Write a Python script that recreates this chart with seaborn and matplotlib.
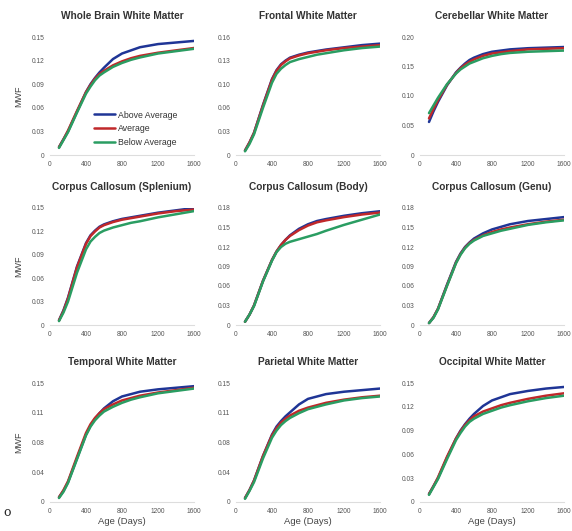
import numpy as np
import pandas as pd
import matplotlib
matplotlib.use("Agg")
import matplotlib.pyplot as plt
import seaborn as sns

sns.set_theme(style="white")
plt.rcParams['font.family'] = ['Liberation Sans', 'DejaVu Sans']

ages = [100, 150, 200, 300, 400, 450, 500, 550, 600, 700, 800, 900, 1000, 1200, 1400, 1600]
groups = ["Above Average", "Average", "Below Average"]
colors = {"Above Average": "#1f3596", "Average": "#c0282a", "Below Average": "#2a9d62"}

titles = ["Whole Brain White Matter", "Frontal White Matter", "Cerebellar White Matter",
          "Corpus Callosum (Splenium)", "Corpus Callosum (Body)", "Corpus Callosum (Genu)",
          "Temporal White Matter", "Parietal White Matter", "Occipital White Matter"]

whole_above = [.010, .020, .030, .055, .080, .090, .098, .105, .111, .122, .129, .133, .137, .141, .143, .145]
whole_avg   = [.010, .020, .031, .056, .080, .089, .097, .103, .107, .114, .119, .123, .126, .130, .133, .136]
whole_below = [.009, .019, .029, .054, .078, .087, .095, .101, .105, .112, .117, .121, .124, .129, .132, .135]

frontal_above = [.006, .017, .030, .068, .103, .115, .123, .128, .132, .136, .139, .141, .143, .146, .149, .151]
frontal_avg   = [.006, .017, .030, .067, .102, .114, .122, .127, .131, .135, .138, .140, .142, .145, .147, .149]
frontal_below = [.005, .015, .028, .064, .098, .110, .117, .122, .126, .130, .133, .136, .138, .142, .145, .147]

cereb_above = [.056, .074, .090, .118, .140, .148, .155, .161, .165, .171, .175, .177, .179, .181, .182, .183]
cereb_avg   = [.062, .078, .093, .119, .139, .147, .153, .158, .162, .168, .172, .174, .176, .179, .180, .181]
cereb_below = [.071, .084, .097, .120, .138, .145, .150, .155, .158, .164, .168, .171, .173, .175, .176, .177]

splen_above = [.006, .019, .035, .075, .105, .115, .121, .126, .129, .133, .136, .138, .140, .144, .147, .150]
splen_avg   = [.006, .018, .034, .074, .104, .114, .120, .125, .128, .132, .135, .137, .139, .143, .146, .148]
splen_below = [.005, .016, .030, .067, .097, .107, .113, .118, .121, .125, .128, .131, .133, .138, .142, .146]

body_above = [.005, .016, .030, .068, .100, .113, .123, .131, .138, .148, .155, .160, .163, .168, .172, .175]
body_avg   = [.005, .016, .030, .068, .100, .113, .123, .131, .137, .146, .153, .158, .161, .166, .170, .173]
body_below = [.005, .016, .029, .067, .099, .112, .120, .125, .128, .132, .136, .140, .145, .154, .162, .170]

genu_above = [.003, .012, .025, .062, .097, .110, .120, .127, .133, .141, .147, .151, .155, .160, .163, .166]
genu_avg   = [.003, .012, .025, .061, .096, .109, .119, .126, .131, .138, .143, .147, .150, .155, .159, .162]
genu_below = [.003, .011, .024, .060, .095, .108, .118, .125, .130, .137, .141, .145, .148, .154, .158, .161]

temp_above = [.006, .014, .025, .055, .085, .096, .105, .112, .118, .127, .133, .136, .139, .142, .144, .146]
temp_avg   = [.006, .015, .026, .057, .087, .098, .106, .112, .117, .123, .128, .131, .134, .138, .141, .144]
temp_below = [.005, .013, .024, .054, .084, .095, .103, .109, .114, .120, .125, .129, .132, .137, .140, .143]

pari_above = [.005, .015, .027, .058, .085, .095, .102, .108, .113, .123, .130, .133, .136, .139, .141, .143]
pari_avg   = [.005, .015, .027, .058, .084, .093, .100, .105, .109, .115, .119, .122, .125, .129, .132, .134]
pari_below = [.004, .014, .025, .055, .081, .090, .097, .102, .106, .112, .117, .120, .123, .128, .131, .133]

occ_above = [.010, .020, .030, .056, .080, .090, .098, .105, .111, .121, .128, .132, .136, .140, .143, .145]
occ_avg   = [.010, .020, .031, .057, .080, .089, .097, .103, .108, .114, .118, .122, .125, .130, .134, .137]
occ_below = [.009, .019, .029, .054, .078, .087, .095, .101, .105, .111, .115, .119, .122, .127, .131, .134]

series = [
    (whole_above, whole_avg, whole_below),
    (frontal_above, frontal_avg, frontal_below),
    (cereb_above, cereb_avg, cereb_below),
    (splen_above, splen_avg, splen_below),
    (body_above, body_avg, body_below),
    (genu_above, genu_avg, genu_below),
    (temp_above, temp_avg, temp_below),
    (pari_above, pari_avg, pari_below),
    (occ_above, occ_avg, occ_below),
]

# y tick labels as printed in the figure (rounded values)
ytick_labels = [
    ["0", "0.03", "0.06", "0.09", "0.12", "0.15"],
    ["0", "0.03", "0.06", "0.10", "0.13", "0.16"],
    ["0", "0.05", "0.10", "0.15", "0.20"],
    ["0", "0.03", "0.06", "0.09", "0.12", "0.15"],
    ["0", "0.03", "0.06", "0.09", "0.12", "0.15", "0.18"],
    ["0", "0.03", "0.06", "0.09", "0.12", "0.15", "0.18"],
    ["0", "0.04", "0.08", "0.11", "0.15"],
    ["0", "0.04", "0.08", "0.11", "0.15"],
    ["0", "0.03", "0.06", "0.09", "0.12", "0.15"],
]
ymax = [0.15, 0.16, 0.20, 0.15, 0.18, 0.18, 0.15, 0.15, 0.15]
xticks = [0, 400, 800, 1200, 1600]

fig = plt.figure(figsize=(5.72, 5.31), dpi=100)
W, H = 572, 531
col_x = [50, 236, 420]
row_y0 = [155, 325, 502]
row_top = [37, 208, 383]
aw = 144

axes = []
for i in range(9):
    r, c = divmod(i, 3)
    left = col_x[c] / W
    bottom = (H - row_y0[r]) / H
    ah = row_y0[r] - row_top[r]
    ax = fig.add_axes([left, bottom, aw / W, ah / H])
    axes.append(ax)

    rows = []
    for g, vals in zip(groups, series[i]):
        for a, v in zip(ages, vals):
            rows.append({"age": a, "mwf": v, "group": g})
    df = pd.DataFrame(rows)
    sns.lineplot(data=df, x="age", y="mwf", hue="group", palette=colors,
                 linewidth=1.8, ax=ax, legend=(i == 0))

    labs = ytick_labels[i]
    ax.set_yticks(np.linspace(0, ymax[i], len(labs)))
    ax.set_yticklabels(labs)
    ax.set_xticks(xticks)
    ax.set_xticklabels([str(t) for t in xticks])
    ax.set_xlim(0, 1600)
    ax.set_ylim(0, ymax[i])
    ax.tick_params(axis="both", length=0, labelsize=4.8, colors="#555555", pad=4)
    for s in ["top", "right", "left"]:
        ax.spines[s].set_visible(False)
    ax.spines["bottom"].set_color("#dddddd")
    ax.spines["bottom"].set_linewidth(0.8)
    ax.set_title(titles[i], fontsize=7.3, fontweight="bold", color="#333333", pad=13)
    ax.set_xlabel("Age (Days)" if r == 2 else "", fontsize=6.8, color="#444444")
    ax.set_ylabel("MWF" if c == 0 else "", fontsize=6.5, color="#444444")
    if c == 0:
        ax.yaxis.set_label_coords(-27 / aw, 0.5)
    if r == 2:
        ax.xaxis.set_label_coords(0.5, -15 / ah)

leg = axes[0].legend(loc="lower right", bbox_to_anchor=(0.94, 0.0), frameon=False,
                     fontsize=6.3, handlelength=2.3, handletextpad=0.4,
                     labelspacing=0.55, title=None)
for t in leg.get_texts():
    t.set_color("#333333")

fig.text(3 / W, 1 - 512 / H, "o", fontsize=9, family="serif", va="center", ha="left")

fig.savefig("out.png", dpi=100)
